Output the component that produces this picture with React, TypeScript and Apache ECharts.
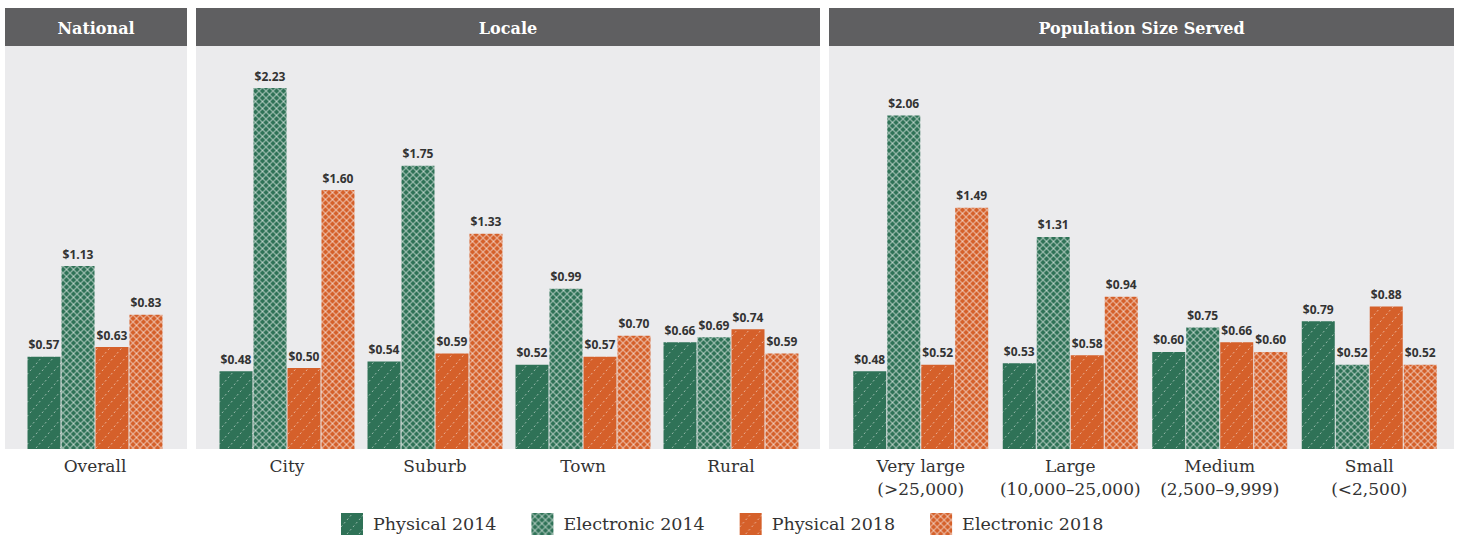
import React, { useEffect, useRef } from "react";
import * as echarts from "echarts";

const seriesNames = ["Physical 2014", "Electronic 2014", "Physical 2018", "Electronic 2018"];
const panelTitles = ["National", "Locale", "Population Size Served"];

const nationalCategories = ["Overall"];
const localeCategories = ["City", "Suburb", "Town", "Rural"];
const populationCategories = [
  "Very large\n(>25,000)",
  "Large\n(10,000\u201325,000)",
  "Medium\n(2,500\u20139,999)",
  "Small\n(<2,500)",
];

// values per series, per panel
const nationalPhysical2014 = [0.57];
const nationalElectronic2014 = [1.13];
const nationalPhysical2018 = [0.63];
const nationalElectronic2018 = [0.83];

const localePhysical2014 = [0.48, 0.54, 0.52, 0.66];
const localeElectronic2014 = [2.23, 1.75, 0.99, 0.69];
const localePhysical2018 = [0.5, 0.59, 0.57, 0.74];
const localeElectronic2018 = [1.6, 1.33, 0.7, 0.59];

const populationPhysical2014 = [0.48, 0.53, 0.6, 0.79];
const populationElectronic2014 = [2.06, 1.31, 0.75, 0.52];
const populationPhysical2018 = [0.52, 0.58, 0.66, 0.88];
const populationElectronic2018 = [1.49, 0.94, 0.6, 0.52];

const GREEN = "#2f7257";
const ORANGE = "#d5602a";
const PANEL_BG = "#ebebed";
const HEADER_BG = "#5f5f61";
const TEXT = "#333333";

function makeStripe(base: string) {
  const w = 12;
  const h = 14;
  const c = document.createElement("canvas");
  c.width = w;
  c.height = h;
  const ctx = c.getContext("2d")!;
  ctx.fillStyle = base;
  ctx.fillRect(0, 0, w, h);
  ctx.strokeStyle = "rgba(255,255,255,0.5)";
  ctx.lineWidth = 1;
  ctx.setLineDash([2, 2.6]);
  for (const dx of [-w, 0, w]) {
    ctx.beginPath();
    ctx.moveTo(dx, h);
    ctx.lineTo(dx + w, 0);
    ctx.stroke();
  }
  return { image: c.toDataURL(), repeat: "repeat", imageWidth: w, imageHeight: h };
}

function makeHatch(base: string) {
  const s = 7;
  const c = document.createElement("canvas");
  c.width = s;
  c.height = s;
  const ctx = c.getContext("2d")!;
  ctx.fillStyle = base;
  ctx.fillRect(0, 0, s, s);
  ctx.strokeStyle = "rgba(255,255,255,0.42)";
  ctx.lineWidth = 1.4;
  for (const d of [-s, 0, s]) {
    ctx.beginPath();
    ctx.moveTo(d, 0);
    ctx.lineTo(d + s, s);
    ctx.stroke();
    ctx.beginPath();
    ctx.moveTo(d, s);
    ctx.lineTo(d + s, 0);
    ctx.stroke();
  }
  return { image: c.toDataURL(), repeat: "repeat", imageWidth: s, imageHeight: s };
}

export default function App() {
  const ref = useRef<HTMLDivElement>(null);

  useEffect(() => {
    document.body.style.margin = "0";
    if (!ref.current) return;
    const chart = echarts.init(ref.current, null, { renderer: "svg" });

    const patterns = [makeStripe(GREEN), makeHatch(GREEN), makeStripe(ORANGE), makeHatch(ORANGE)];

    const panelData = [
      [nationalPhysical2014, nationalElectronic2014, nationalPhysical2018, nationalElectronic2018],
      [localePhysical2014, localeElectronic2014, localePhysical2018, localeElectronic2018],
      [populationPhysical2014, populationElectronic2014, populationPhysical2018, populationElectronic2018],
    ];
    const panelCategories = [nationalCategories, localeCategories, populationCategories];

    // panel layout (pixels)
    const panels = [
      { x: 5, w: 182, gridLeft: 21, gridWidth: 148 },
      { x: 196, w: 624, gridLeft: 213, gridWidth: 592 },
      { x: 829, w: 625, gridLeft: 846, gridWidth: 598 },
    ];
    const headerTop = 8;
    const headerH = 38;
    const base = 449;
    const plotTop = headerTop + headerH;

    const graphics: any[] = [];
    panels.forEach((p, i) => {
      graphics.push({
        type: "rect",
        z: -10,
        shape: { x: p.x, y: plotTop, width: p.w, height: base - plotTop },
        style: { fill: PANEL_BG },
        silent: true,
      });
      graphics.push({
        type: "rect",
        z: -10,
        shape: { x: p.x, y: headerTop, width: p.w, height: headerH },
        style: { fill: HEADER_BG },
        silent: true,
      });
      graphics.push({
        type: "text",
        z: -9,
        x: p.x + p.w / 2,
        y: headerTop + headerH / 2 + 1,
        style: {
          text: panelTitles[i],
          textAlign: "center",
          textVerticalAlign: "middle",
          fill: "#ffffff",
          font: 'bold 16px "DejaVu Serif"',
        },
        silent: true,
      });
    });

    const grids = panels.map((p) => ({
      left: p.gridLeft,
      width: p.gridWidth,
      top: plotTop,
      bottom: 536 - base,
      containLabel: false,
    }));

    const xAxes = panels.map((_, i) => ({
      type: "category",
      gridIndex: i,
      data: panelCategories[i],
      axisLine: { show: false },
      axisTick: { show: false },
      axisLabel: {
        fontFamily: "DejaVu Serif",
        fontSize: 17,
        color: TEXT,
        margin: 5,
        lineHeight: 23,
        interval: 0,
      },
    }));

    const yAxes = panels.map((_, i) => ({
      type: "value",
      gridIndex: i,
      min: 0,
      max: 2.49,
      show: false,
      splitLine: { show: false },
    }));

    const series: any[] = [];
    panelData.forEach((arrs, pi) => {
      arrs.forEach((data, si) => {
        series.push({
          type: "bar",
          name: seriesNames[si],
          xAxisIndex: pi,
          yAxisIndex: pi,
          data,
          barWidth: 33,
          barGap: "3%",
          itemStyle: { color: patterns[si] },
          label: {
            show: true,
            position: "top",
            distance: 6,
            formatter: (p: any) => "$" + Number(p.value).toFixed(2),
            fontFamily: "Open Sans",
            fontWeight: "bold",
            fontSize: 12,
            color: TEXT,
          },
        });
      });
    });

    chart.setOption({
      animation: false,
      backgroundColor: "#ffffff",
      graphic: graphics,
      grid: grids,
      xAxis: xAxes,
      yAxis: yAxes,
      legend: {
        data: seriesNames,
        left: 336,
        top: 513,
        padding: [0, 5, 0, 5],
        itemWidth: 22,
        itemHeight: 22,
        itemGap: 35,
        icon: "rect",
        textStyle: {
          fontFamily: "DejaVu Serif",
          fontSize: 17.5,
          lineHeight: 20,
          color: TEXT,
          padding: [0, 0, 0, 5],
        },
      },
      series,
    });

    return () => {
      chart.dispose();
    };
  }, []);

  return <div ref={ref} style={{ width: 1458, height: 536 }} />;
}
